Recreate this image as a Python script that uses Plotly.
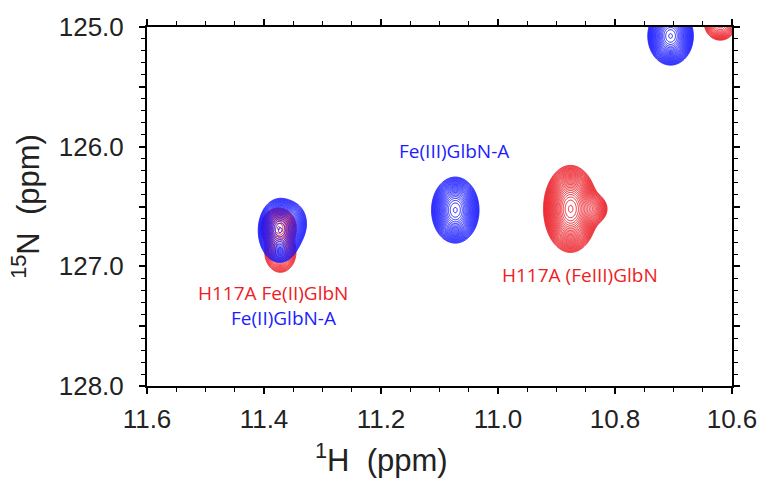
import numpy as np
import plotly.graph_objects as go

RED = "#EE1C25"
BLUE = "#1C1CFF"

# ---- data: peaks (ppm) ----
peak_colors = [RED, BLUE, BLUE, RED, BLUE, RED]
peak_nlev = [20, 26, 26, 30, 26, 16]

comp_peak = [1, 1, 0, 0, 2, 3, 3, 4, 5]
comp_x    = [11.373, 11.352, 11.375, 11.372, 11.073, 10.876, 10.840, 10.705, 10.620]
comp_y    = [126.70, 126.64, 126.68, 126.88, 126.53, 126.52, 126.52, 125.075, 124.97]
comp_sx   = [0.0132, 0.0120, 0.0108, 0.0110, 0.0145, 0.0165, 0.0130, 0.0139, 0.0097]
comp_sy   = [0.0955, 0.0800, 0.0600, 0.0700, 0.0986, 0.1300, 0.0600, 0.0870, 0.0500]
comp_amp  = [1.00, 0.15, 1.00, 0.38, 1.00, 1.00, 0.15, 1.00, 1.00]

labels_text = ["Fe(III)GlbN-A", "H117A (FeIII)GlbN", "H117A Fe(II)GlbN", "Fe(II)GlbN-A"]
labels_x = [11.075, 10.859, 11.384, 11.367]
labels_y = [126.04, 127.07, 127.22, 127.43]
labels_color = [BLUE, RED, RED, BLUE]

x_range = [11.6, 10.6]
y_range = [128.0, 125.0]
x_ticks = [11.6, 11.4, 11.2, 11.0, 10.8, 10.6]
y_ticks = [125.0, 125.5, 126.0, 126.5, 127.0, 127.5, 128.0]
y_ticktext = ["125.0", "", "126.0", "", "127.0", "", "128.0"]

fig = go.Figure()

for p, col in enumerate(peak_colors):
    idx = [i for i, q in enumerate(comp_peak) if q == p]
    x0 = min(comp_x[i] - 4.5 * comp_sx[i] for i in idx)
    x1 = max(comp_x[i] + 4.5 * comp_sx[i] for i in idx)
    y0 = min(comp_y[i] - 4.5 * comp_sy[i] for i in idx)
    y1 = max(comp_y[i] + 4.5 * comp_sy[i] for i in idx)
    gx = np.arange(x0, x1, 0.0012)
    gy = np.arange(y0, y1, 0.004)
    X, Y = np.meshgrid(gx, gy)
    Z = np.zeros_like(X)
    for i in idx:
        Z += comp_amp[i] * np.exp(-((X - comp_x[i]) ** 2) / (2 * comp_sx[i] ** 2)
                                  - ((Y - comp_y[i]) ** 2) / (2 * comp_sy[i] ** 2))
    Z = Z / Z.max()
    Z = np.log(np.maximum(Z, 1e-4))
    n = peak_nlev[p]
    start = np.log(0.02)
    end = np.log(0.975)
    fig.add_trace(go.Contour(
        x=np.round(gx, 5), y=np.round(gy, 5), z=np.round(Z, 4),
        contours=dict(coloring="lines", start=start, end=end,
                      size=(end - start) / (n - 1), showlabels=False),
        line=dict(width=1.0),
        colorscale=[[0, col], [1, col]],
        showscale=False, hoverinfo="skip",
    ))

for t, x, y, c in zip(labels_text, labels_x, labels_y, labels_color):
    fig.add_annotation(x=x, y=y, xref="x", yref="y", text=t, showarrow=False,
                       font=dict(family="Open Sans", size=19, color=c))

TITLE_FONT = dict(family="Liberation Sans", size=31, color="#222")

# x axis title (placed left of centre as in the reference)
fig.add_annotation(x=11.2, y=-0.2, xref="x", yref="paper",
                   text="<sup>1</sup>H\u00a0 (ppm)", showarrow=False,
                   yanchor="middle", font=TITLE_FONT)

axis_common = dict(
    showline=True, linecolor="black", linewidth=2, mirror="ticks",
    ticks="outside", tickcolor="black", tickwidth=2, ticklen=6,
    showgrid=False, zeroline=False,
    tickfont=dict(family="Liberation Sans", size=26, color="#222"),
)

fig.update_xaxes(
    range=x_range, tickmode="array", tickvals=x_ticks,
    ticktext=[f"{v:.1f}" for v in x_ticks],
    minor=dict(dtick=0.05, tick0=10.6, ticks="outside", ticklen=4, tickwidth=1,
               tickcolor="black", showgrid=False),
    ticklabelstandoff=3,
    **axis_common,
)
fig.update_yaxes(
    range=y_range, tickmode="array", tickvals=y_ticks, ticktext=y_ticktext,
    minor=dict(dtick=0.1, tick0=125.0, ticks="outside", ticklen=4, tickwidth=1,
               tickcolor="black", showgrid=False),
    title=dict(text="<sup>15</sup>N\u00a0 (ppm)", standoff=10, font=TITLE_FONT),
    ticklabelstandoff=10,
    **axis_common,
)

fig.update_layout(
    width=769, height=483,
    margin=dict(l=147, r=29, t=27, b=97),
    paper_bgcolor="white", plot_bgcolor="white",
    showlegend=False,
)

fig.write_html("out.html")
